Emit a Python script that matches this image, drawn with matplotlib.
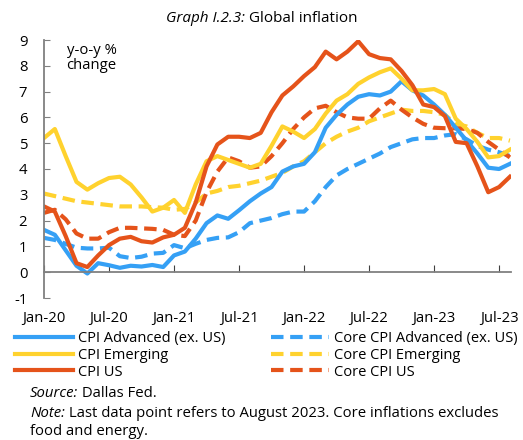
import numpy as np
import matplotlib
matplotlib.use('Agg')
import matplotlib.pyplot as plt

plt.rcParams['font.family'] = ['Open Sans', 'DejaVu Sans']
plt.rcParams['axes.unicode_minus'] = False

# monthly, Jan-20 .. Aug-23 (y-o-y %)
months = ['Jan-20', 'Jul-20', 'Jan-21', 'Jul-21', 'Jan-22', 'Jul-22', 'Jan-23', 'Jul-23']
cpi_adv = [1.64, 1.45, 0.85, 0.25, -0.05, 0.35, 0.27, 0.17, 0.25, 0.22, 0.28, 0.2,
           0.65, 0.8, 1.3, 1.9, 2.2, 2.07, 2.4, 2.75, 3.05, 3.3, 3.9, 4.1,
           4.2, 4.65, 5.6, 6.1, 6.5, 6.8, 6.9, 6.85, 7.0, 7.4, 7.05, 6.85,
           6.5, 6.1, 5.6, 5.1, 4.6, 4.05, 4.0, 4.2]
core_adv = [1.33, 1.25, 1.1, 0.95, 0.92, 0.92, 0.95, 0.62, 0.55, 0.6, 0.72, 0.75,
            1.05, 0.93, 1.1, 1.25, 1.33, 1.35, 1.55, 1.9, 2.0, 2.1, 2.25, 2.35,
            2.35, 2.75, 3.3, 3.75, 4.0, 4.2, 4.4, 4.6, 4.85, 5.0, 5.15, 5.2,
            5.2, 5.3, 5.35, 5.15, 4.9, 4.75, 4.65, 4.5]
cpi_em = [5.2, 5.55, 4.5, 3.5, 3.2, 3.45, 3.65, 3.7, 3.4, 2.9, 2.35, 2.5,
          2.8, 2.3, 3.4, 4.3, 4.5, 4.35, 4.2, 4.05, 4.2, 4.9, 5.65, 5.45,
          5.2, 5.55, 6.15, 6.65, 6.9, 7.3, 7.55, 7.75, 7.9, 7.5, 7.05, 7.05,
          7.1, 6.9, 5.95, 5.55, 5.05, 4.45, 4.5, 4.75]
core_em = [3.05, 2.95, 2.85, 2.75, 2.7, 2.65, 2.6, 2.55, 2.55, 2.55, 2.52, 2.5,
           2.42, 2.45, 2.7, 3.05, 3.15, 3.3, 3.35, 3.45, 3.55, 3.7, 3.85, 4.1,
           4.3, 4.65, 5.0, 5.25, 5.45, 5.6, 5.85, 6.0, 6.15, 6.3, 6.25, 6.25,
           6.2, 6.1, 5.75, 5.65, 5.4, 5.2, 5.2, 5.1]
cpi_us = [2.55, 2.35, 1.4, 0.35, 0.2, 0.65, 1.05, 1.3, 1.37, 1.2, 1.15, 1.35,
          1.45, 1.72, 2.7, 4.1, 4.95, 5.25, 5.25, 5.2, 5.4, 6.2, 6.85, 7.2,
          7.6, 7.95, 8.55, 8.25, 8.55, 8.95, 8.45, 8.3, 8.25, 7.8, 7.25, 6.5,
          6.4, 6.05, 5.05, 5.0, 4.1, 3.1, 3.3, 3.7]
core_us = [2.3, 2.42, 2.05, 1.5, 1.3, 1.3, 1.55, 1.72, 1.72, 1.7, 1.68, 1.64,
           1.45, 1.4, 2.0, 3.1, 3.9, 4.45, 4.3, 4.05, 4.1, 4.5, 5.0, 5.55,
           6.0, 6.35, 6.45, 6.2, 6.0, 5.95, 5.95, 6.35, 6.65, 6.3, 6.0, 5.75,
           5.6, 5.58, 5.58, 5.55, 5.4, 5.05, 4.75, 4.45]

blue = '#35A0F5'
yellow = '#FFD22E'
orange = '#E5531A'
x = np.arange(len(cpi_us))
fs = 10.7

fig = plt.figure(figsize=(5.23, 4.40), dpi=100)
ax = fig.add_axes([44/523, 1-298/440, (511-44)/523, (298-40)/440])

lw = 3
ax.plot(x, core_adv, color=blue, lw=lw, ls=(0, (3, 1.6)), label='Core CPI Advanced (ex. US)')
ax.plot(x, core_em, color=yellow, lw=lw, ls=(0, (3, 1.6)), label='Core CPI Emerging')
ax.plot(x, core_us, color=orange, lw=lw, ls=(0, (3, 1.6)), label='Core CPI US')
ax.plot(x, cpi_adv, color=blue, lw=lw, label='CPI Advanced (ex. US)')
ax.plot(x, cpi_em, color=yellow, lw=lw, label='CPI Emerging')
ax.plot(x, cpi_us, color=orange, lw=lw, label='CPI US')

ax.set_xlim(0, 43.1)
ax.set_ylim(-1, 9)
ax.set_yticks(range(-1, 10))
ax.set_xticks(range(0, 44, 6))
ax.set_xticklabels(months)

for s in ['top', 'right']:
    ax.spines[s].set_visible(False)
ax.spines['bottom'].set_position(('data', 0))
for s in ['left', 'bottom']:
    ax.spines[s].set_color('#808080')
    ax.spines[s].set_linewidth(1.3)
ax.tick_params(axis='y', direction='in', length=4, color='#808080', pad=12, labelsize=fs)
ax.tick_params(axis='x', direction='in', length=5, color='#404040', pad=28, labelsize=fs)

ax.text(0.102, 0.99, 'y-o-y %\nchange', transform=ax.transAxes, ha='center', va='top',
        multialignment='center', fontsize=fs, linespacing=1.05)

# title: italic part + normal part
fig.text(245/523, 1-18/440, 'Graph I.2.3:', style='italic', ha='right', va='center', fontsize=11)
fig.text(249/523, 1-18/440, 'Global inflation', ha='left', va='center', fontsize=11)

h, l = ax.get_legend_handles_labels()
order = [3, 4, 5, 0, 1, 2]
fig.legend([h[i] for i in order], [l[i] for i in order], ncol=2, loc='upper left',
           bbox_to_anchor=(15/523, 1-331/440), frameon=False, fontsize=10.5,
           handlelength=4, handletextpad=0.3, labelspacing=0.12, columnspacing=3.15,
           borderaxespad=0, borderpad=0)

t1 = fig.text(30/523, 1-393/440, 'Source:', style='italic', ha='left', va='center', fontsize=fs)
ax.annotate(' Dallas Fed.', xy=(1, 0), xycoords=t1, ha='left', va='bottom', fontsize=fs,
            annotation_clip=False)
t2 = fig.text(30/523, 1-413/440, 'Note:', style='italic', ha='left', va='center', fontsize=fs)
ax.annotate(' Last data point refers to August 2023. Core inflations excludes', xy=(1, 0),
            xycoords=t2, ha='left', va='bottom', fontsize=fs, annotation_clip=False)
fig.text(30/523, 1-431/440, 'food and energy.', ha='left', va='center', fontsize=fs)

fig.savefig('out.png', dpi=100)
